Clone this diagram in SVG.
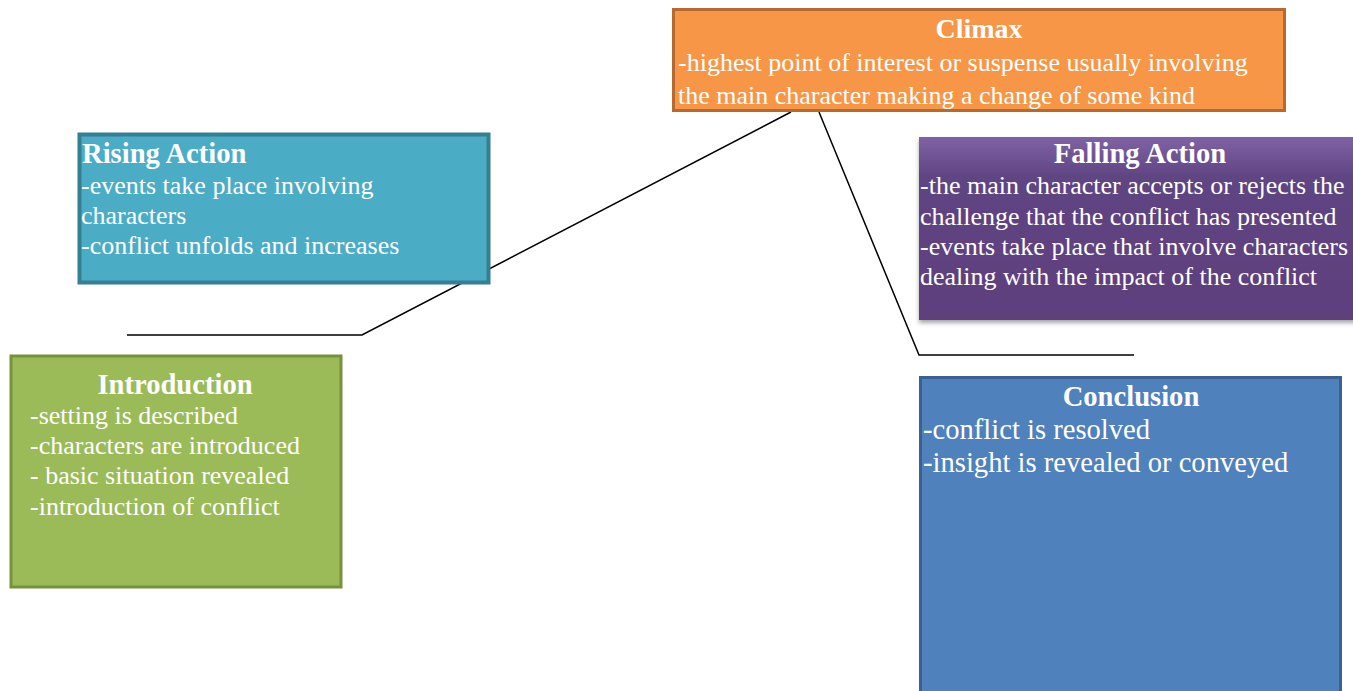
<svg xmlns="http://www.w3.org/2000/svg" width="1353" height="691" viewBox="0 0 1353 691">
<defs>
<linearGradient id="purp" x1="0" y1="0" x2="0" y2="1">
<stop offset="0" stop-color="#8062a4"/>
<stop offset="0.22" stop-color="#5f4482"/>
<stop offset="1" stop-color="#5d407c"/>
</linearGradient>
<filter id="sh" x="-5%" y="-5%" width="110%" height="120%">
<feDropShadow dx="0" dy="3" stdDeviation="2" flood-color="#000" flood-opacity="0.35"/>
</filter>
</defs>
<style>
text{font-family:"Liberation Serif","Times New Roman",serif;fill:#ffffff;font-size:26px}
.t{font-weight:bold;font-size:28.6px}
.c{text-anchor:middle}
.big{font-size:28.6px}
.ln{stroke:#000;stroke-width:1.5;fill:none}
</style>
<g id="connectors">
<polyline class="ln" points="127,335 362,335 791,112"/>
<polyline class="ln" points="819,112 919,355 1134,355"/>
</g>
<g id="climax">
<rect x="673.5" y="9.5" width="611" height="101" fill="#f79646" stroke="#b66a2f" stroke-width="3"/>
<text class="t c" x="979" y="38" style="font-size:28px">Climax</text>
<text x="678" y="71">-highest point of interest or suspense usually involving</text>
<text x="678" y="104">the main character making a change of some kind</text>
</g>
<g id="rising">
<rect x="79.5" y="134.5" width="409" height="148" fill="#4bacc6" stroke="#357f93" stroke-width="4"/>
<text class="t" x="82" y="163">Rising Action</text>
<text x="81" y="194">-events take place involving</text>
<text x="81" y="224">characters</text>
<text x="81" y="254">-conflict unfolds and increases</text>
</g>
<g id="introduction">
<rect x="11" y="356" width="330" height="231" fill="#9bbb59" stroke="#76923c" stroke-width="3"/>
<text class="t c" x="175" y="394">Introduction</text>
<text x="30" y="424">-setting is described</text>
<text x="30" y="454">-characters are introduced</text>
<text x="30" y="484">- basic situation revealed</text>
<text x="30" y="515">-introduction of conflict</text>
</g>
<g id="falling">
<rect x="919" y="137" width="440" height="183" fill="url(#purp)" filter="url(#sh)"/>
<text class="t c" x="1140" y="163">Falling Action</text>
<text x="920" y="194">-the main character accepts or rejects the</text>
<text x="920" y="225">challenge that the conflict has presented</text>
<text x="920" y="255">-events take place that involve characters</text>
<text x="920" y="285">dealing with the impact of the conflict</text>
</g>
<g id="conclusion">
<rect x="920.5" y="377.5" width="420" height="318" fill="#4f81bd" stroke="#3a6191" stroke-width="3"/>
<text class="t c" x="1131" y="406">Conclusion</text>
<text class="big" x="923" y="439">-conflict is resolved</text>
<text class="big" x="923" y="472">-insight is revealed or conveyed</text>
</g>
</svg>
